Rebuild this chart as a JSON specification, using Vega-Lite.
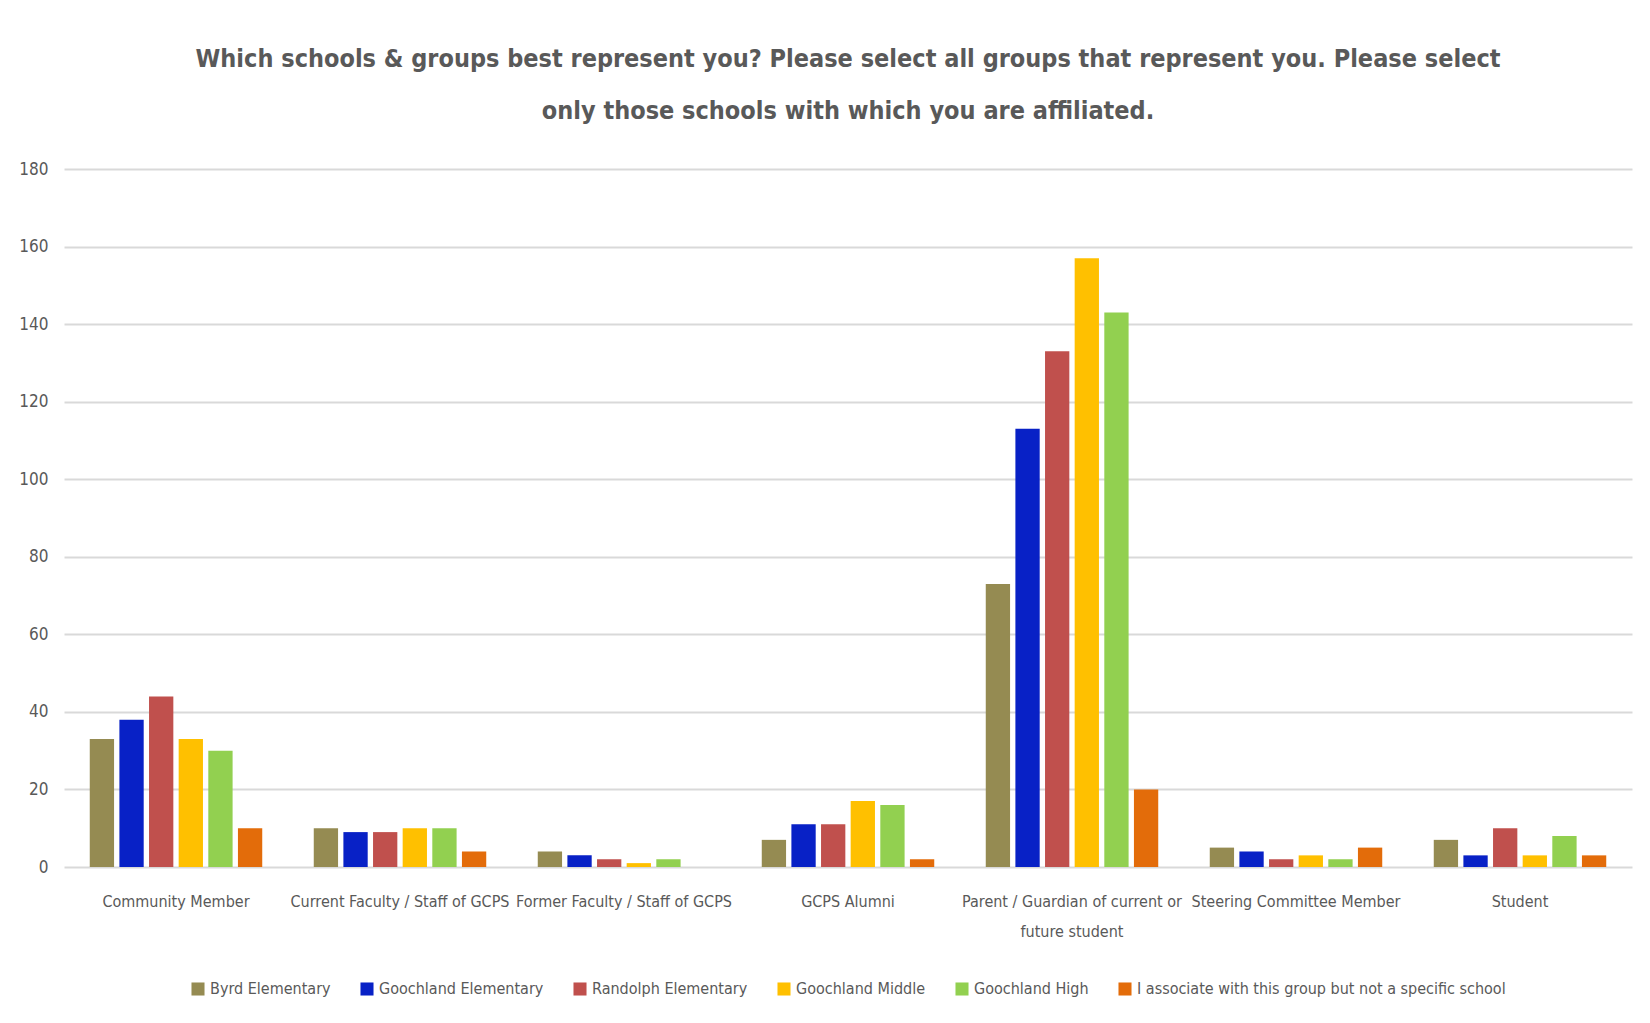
{
  "$schema": "https://vega.github.io/schema/vega-lite/v6.json",
  "width": 1650,
  "height": 1023,
  "autosize": {"type": "fit", "contains": "padding"},
  "padding": {"left": 18, "top": 47, "right": 18, "bottom": 26},
  "background": "white",
  "title": {
    "text": ["Which schools & groups best represent you? Please select all groups that represent you. Please select", "only those schools with which you are affiliated."],
    "font": "DejaVu Sans Condensed",
    "fontSize": 25,
    "fontWeight": "bold",
    "color": "#595959",
    "lineHeight": 52,
    "anchor": "middle",
    "offset": 36
  },
  "data": {
    "values": [
      {"group": "Community Member", "school": "Byrd Elementary", "count": 33},
      {"group": "Community Member", "school": "Goochland Elementary", "count": 38},
      {"group": "Community Member", "school": "Randolph Elementary", "count": 44},
      {"group": "Community Member", "school": "Goochland Middle", "count": 33},
      {"group": "Community Member", "school": "Goochland High", "count": 30},
      {"group": "Community Member", "school": "I associate with this group but not a specific school", "count": 10},
      {"group": "Current Faculty / Staff of GCPS", "school": "Byrd Elementary", "count": 10},
      {"group": "Current Faculty / Staff of GCPS", "school": "Goochland Elementary", "count": 9},
      {"group": "Current Faculty / Staff of GCPS", "school": "Randolph Elementary", "count": 9},
      {"group": "Current Faculty / Staff of GCPS", "school": "Goochland Middle", "count": 10},
      {"group": "Current Faculty / Staff of GCPS", "school": "Goochland High", "count": 10},
      {"group": "Current Faculty / Staff of GCPS", "school": "I associate with this group but not a specific school", "count": 4},
      {"group": "Former Faculty / Staff of GCPS", "school": "Byrd Elementary", "count": 4},
      {"group": "Former Faculty / Staff of GCPS", "school": "Goochland Elementary", "count": 3},
      {"group": "Former Faculty / Staff of GCPS", "school": "Randolph Elementary", "count": 2},
      {"group": "Former Faculty / Staff of GCPS", "school": "Goochland Middle", "count": 1},
      {"group": "Former Faculty / Staff of GCPS", "school": "Goochland High", "count": 2},
      {"group": "Former Faculty / Staff of GCPS", "school": "I associate with this group but not a specific school", "count": 0},
      {"group": "GCPS Alumni", "school": "Byrd Elementary", "count": 7},
      {"group": "GCPS Alumni", "school": "Goochland Elementary", "count": 11},
      {"group": "GCPS Alumni", "school": "Randolph Elementary", "count": 11},
      {"group": "GCPS Alumni", "school": "Goochland Middle", "count": 17},
      {"group": "GCPS Alumni", "school": "Goochland High", "count": 16},
      {"group": "GCPS Alumni", "school": "I associate with this group but not a specific school", "count": 2},
      {"group": "Parent / Guardian of current or future student", "school": "Byrd Elementary", "count": 73},
      {"group": "Parent / Guardian of current or future student", "school": "Goochland Elementary", "count": 113},
      {"group": "Parent / Guardian of current or future student", "school": "Randolph Elementary", "count": 133},
      {"group": "Parent / Guardian of current or future student", "school": "Goochland Middle", "count": 157},
      {"group": "Parent / Guardian of current or future student", "school": "Goochland High", "count": 143},
      {"group": "Parent / Guardian of current or future student", "school": "I associate with this group but not a specific school", "count": 20},
      {"group": "Steering Committee Member", "school": "Byrd Elementary", "count": 5},
      {"group": "Steering Committee Member", "school": "Goochland Elementary", "count": 4},
      {"group": "Steering Committee Member", "school": "Randolph Elementary", "count": 2},
      {"group": "Steering Committee Member", "school": "Goochland Middle", "count": 3},
      {"group": "Steering Committee Member", "school": "Goochland High", "count": 2},
      {"group": "Steering Committee Member", "school": "I associate with this group but not a specific school", "count": 5},
      {"group": "Student", "school": "Byrd Elementary", "count": 7},
      {"group": "Student", "school": "Goochland Elementary", "count": 3},
      {"group": "Student", "school": "Randolph Elementary", "count": 10},
      {"group": "Student", "school": "Goochland Middle", "count": 3},
      {"group": "Student", "school": "Goochland High", "count": 8},
      {"group": "Student", "school": "I associate with this group but not a specific school", "count": 3}
    ]
  },
  "mark": {"type": "bar"},
  "encoding": {
    "x": {
      "field": "group",
      "type": "nominal",
      "sort": null,
      "title": null,
      "scale": {"paddingInner": 0.23, "paddingOuter": 0.115},
      "axis": {
        "labelAngle": 0,
        "labelFont": "DejaVu Sans Condensed",
        "labelFontSize": 16,
        "labelColor": "#595959",
        "labelPadding": 34,
        "labelLineHeight": 30,
        "labelLimit": 300,
        "labelBaseline": "middle",
        "ticks": false,
        "domain": false,
        "labelExpr": "datum.label == 'Parent / Guardian of current or future student' ? ['Parent / Guardian of current or', 'future student'] : datum.label"
      }
    },
    "xOffset": {
      "field": "school",
      "type": "nominal",
      "sort": null,
      "scale": {"paddingInner": 0.18}
    },
    "y": {
      "field": "count",
      "type": "quantitative",
      "title": null,
      "scale": {"domain": [0, 180]},
      "axis": {
        "values": [0, 20, 40, 60, 80, 100, 120, 140, 160, 180],
        "labelFont": "DejaVu Sans Condensed",
        "labelFontSize": 17,
        "labelColor": "#595959",
        "labelPadding": 16,
        "ticks": false,
        "domain": false,
        "gridColor": "#d9d9d9",
        "gridWidth": 2
      }
    },
    "color": {
      "field": "school",
      "type": "nominal",
      "sort": null,
      "title": null,
      "scale": {
        "domain": ["Byrd Elementary", "Goochland Elementary", "Randolph Elementary", "Goochland Middle", "Goochland High", "I associate with this group but not a specific school"],
        "range": ["#958B52", "#0821C6", "#C0504D", "#FFC000", "#92D050", "#E36C0A"]
      },
      "legend": {
        "orient": "bottom",
        "direction": "horizontal",
        "symbolType": "square",
        "symbolSize": 170,
        "symbolStrokeWidth": 0,
        "labelFont": "DejaVu Sans Condensed",
        "labelFontSize": 16,
        "labelColor": "#595959",
        "labelLimit": 500,
        "columnPadding": 28,
        "offset": 42
      }
    }
  },
  "config": {
    "view": {"stroke": null},
    "axis": {"zindex": 0},
    "legend": {"layout": {"bottom": {"anchor": "middle"}}}
  }
}
